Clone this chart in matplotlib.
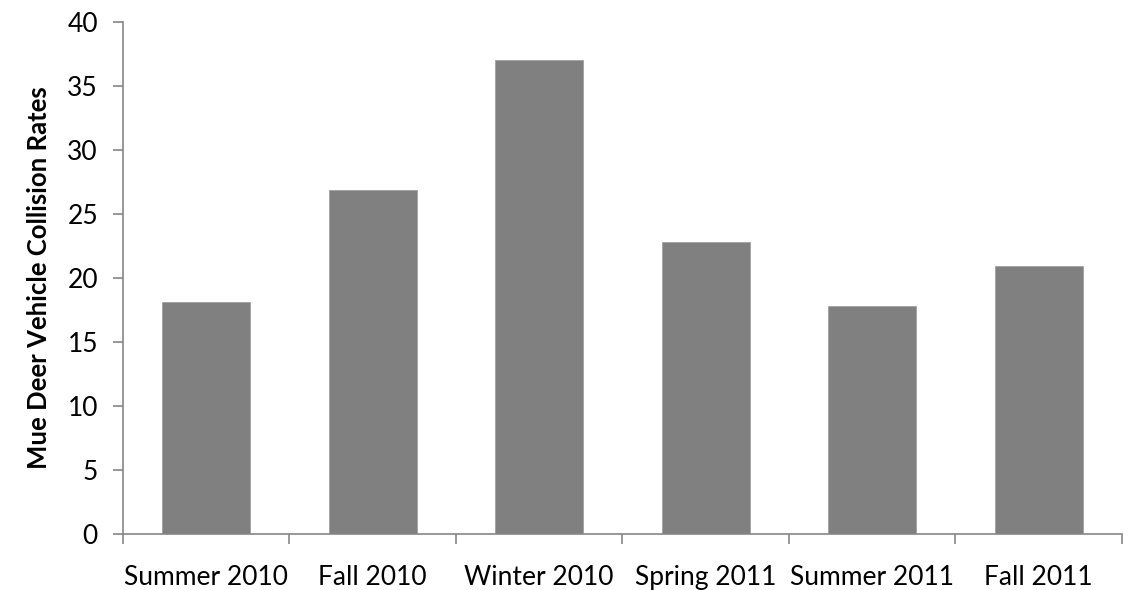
import matplotlib
matplotlib.use("Agg")
import matplotlib.pyplot as plt
import numpy as np

categories = ["Summer 2010", "Fall 2010", "Winter 2010", "Spring 2011", "Summer 2011", "Fall 2011"]
values = [18.1, 26.9, 37.0, 22.8, 17.8, 20.9]
y_ticks = [0, 5, 10, 15, 20, 25, 30, 35, 40]
y_label = "Mue Deer Vehicle Collision Rates"

plt.rcParams['font.family'] = ['Lato', 'DejaVu Sans']

fig = plt.figure(figsize=(11.3, 5.9), dpi=100)
ax = fig.add_axes([0.1088, 0.0949, 0.8841, 0.8678])

x = np.arange(len(categories))
ax.bar(x, values, width=0.53, color="#808080", edgecolor="#a0a0a0", linewidth=0.6)

ax.set_xlim(-0.5, len(categories) - 0.5)
ax.set_ylim(0, 40)
ax.set_yticks(y_ticks)
ax.set_yticklabels([str(t) for t in y_ticks], fontsize=19)
ax.set_xticks(x)
ax.set_xticklabels(categories, fontsize=19)
ax.set_xticks(np.arange(-0.5, len(categories)), minor=True)
ax.tick_params(axis='x', which='major', length=0, pad=22)
ax.tick_params(axis='x', which='minor', length=7, width=1.2, color="#868686", direction='out')
ax.tick_params(axis='y', length=7, width=1.2, color="#868686", direction='out', pad=11)

for s in ['top', 'right']:
    ax.spines[s].set_visible(False)
for s in ['left', 'bottom']:
    ax.spines[s].set_color("#868686")
    ax.spines[s].set_linewidth(1.2)

ax.set_ylabel(y_label, fontsize=18.5, fontweight='bold', labelpad=12)

fig.savefig("out.png", dpi=100, facecolor="white")
